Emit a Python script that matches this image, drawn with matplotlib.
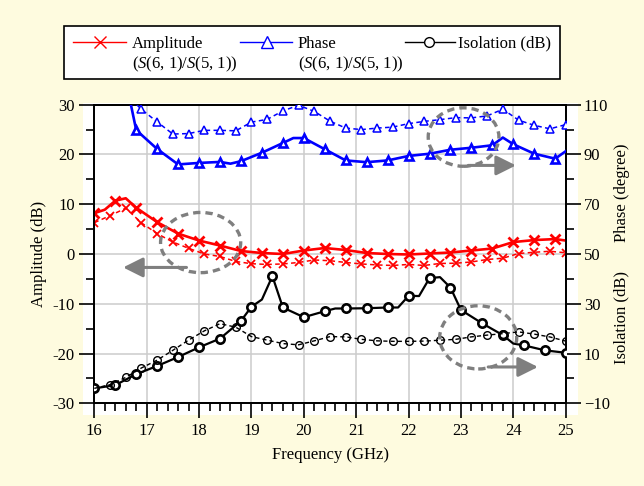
import matplotlib
matplotlib.use("Agg")
import matplotlib.pyplot as plt
from matplotlib.lines import Line2D
from matplotlib.patches import Ellipse, Rectangle
from matplotlib.ticker import MultipleLocator, FixedLocator, FuncFormatter

plt.rcParams['font.family'] = ['Liberation Serif', 'DejaVu Serif']
plt.rcParams['mathtext.fontset'] = 'custom'
plt.rcParams['mathtext.rm'] = 'Liberation Serif'
plt.rcParams['mathtext.it'] = 'Liberation Serif:italic'
plt.rcParams['font.size'] = 12

# ---------------- data ----------------
# Amplitude S(6,1)/S(5,1) (dB), left axis
amp_s_x = [16.0, 16.2, 16.4, 16.6, 16.8, 17.2, 17.6, 18.0, 18.4, 18.8, 19.2, 19.6, 20.0,
           20.4, 20.8, 21.2, 21.6, 22.0, 22.4, 22.8, 23.2, 23.6, 24.0, 24.4, 24.8, 25.0]
amp_s_y = [8.2, 8.9, 10.7, 11.2, 9.3, 6.4, 4.1, 2.7, 1.7, 0.6, 0.2, 0.0, 0.7,
           1.2, 0.8, 0.2, 0.0, -0.1, 0.1, 0.3, 0.7, 1.1, 2.4, 2.8, 3.0, 2.7]
amp_s_nomark = [16.2, 16.6, 25.0]

amp_d_x = [16.0, 16.3, 16.6, 16.9, 17.2, 17.5, 17.8, 18.1, 18.4, 18.7, 19.0, 19.3, 19.6,
           19.9, 20.2, 20.5, 20.8, 21.1, 21.4, 21.7, 22.0, 22.3, 22.6, 22.9, 23.2, 23.5,
           23.8, 24.1, 24.4, 24.7, 25.0]
amp_d_y = [6.3, 7.7, 9.2, 6.25, 4.1, 2.4, 1.15, 0.0, -0.5, -1.5, -1.95, -2.1, -2.0,
           -1.7, -1.2, -1.35, -1.7, -2.0, -2.2, -2.3, -2.1, -2.3, -1.9, -1.85, -1.6, -1.1,
           -0.85, 0.1, 0.35, 0.55, 0.25]

# Phase S(6,1)/S(5,1) (degree), right axis
ph_s_x = [16.6, 16.8, 17.2, 17.6, 18.0, 18.4, 18.6, 18.8, 19.2, 19.6, 19.8, 20.0, 20.4,
          20.8, 21.2, 21.6, 22.0, 22.4, 22.8, 23.2, 23.6, 23.8, 24.0, 24.4, 24.8, 25.0]
ph_s_y = [120.0, 99.8, 92.2, 86.0, 86.6, 87.0, 86.3, 87.3, 90.7, 94.6, 96.6, 96.6, 92.1,
          87.6, 86.9, 87.6, 89.4, 90.3, 91.9, 92.7, 93.7, 96.8, 94.1, 90.3, 88.3, 91.3]
ph_s_nomark = [16.6, 18.6, 19.8, 23.8, 25.0]

ph_d_x = [16.6, 16.9, 17.2, 17.5, 17.8, 18.1, 18.4, 18.7, 19.0, 19.3, 19.6, 19.9, 20.2,
          20.5, 20.8, 21.1, 21.4, 21.7, 22.0, 22.3, 22.6, 22.9, 23.2, 23.5, 23.8, 24.1,
          24.4, 24.7, 25.0]
ph_d_y = [114.5, 108.1, 103.1, 98.2, 98.4, 99.7, 99.7, 99.5, 103.0, 104.1, 107.5, 109.8, 107.3,
          103.4, 100.6, 100.0, 100.6, 101.0, 102.4, 103.3, 104.0, 104.8, 104.7, 105.5, 108.2, 103.8,
          101.7, 100.3, 102.0]

# Isolation (dB), right axis
iso_s_x = [16.0, 16.4, 16.8, 17.2, 17.6, 18.0, 18.4, 18.8, 19.0, 19.2, 19.4, 19.6, 20.0,
           20.4, 20.6, 20.8, 21.2, 21.6, 21.8, 22.0, 22.2, 22.4, 22.6, 22.8, 23.0, 23.4,
           23.8, 24.0, 24.2, 24.6, 25.0]
iso_s_y = [-4.0, -2.7, 1.7, 5.0, 8.6, 12.5, 16.0, 23.1, 28.8, 31.7, 41.1, 28.5, 24.6,
           27.0, 28.1, 28.1, 28.2, 28.5, 28.5, 33.2, 33.1, 40.3, 40.7, 36.5, 27.5, 22.2,
           17.4, 14.0, 13.3, 11.3, 10.3]
iso_s_nomark = [19.2, 20.6, 21.8, 22.2, 22.6, 24.0]

iso_d_x = [16.0, 16.3, 16.6, 16.9, 17.2, 17.5, 17.8, 18.1, 18.4, 18.7, 19.0, 19.3, 19.6,
           19.9, 20.2, 20.5, 20.8, 21.1, 21.4, 21.7, 22.0, 22.3, 22.6, 22.9, 23.2, 23.5,
           23.8, 24.1, 24.4, 24.7, 25.0]
iso_d_y = [-4.0, -2.5, 0.4, 4.2, 7.35, 11.3, 15.4, 19.1, 22.0, 20.6, 16.8, 15.4, 14.0,
           13.5, 15.1, 16.8, 16.7, 15.7, 15.1, 14.9, 14.9, 15.0, 15.35, 15.7, 16.7, 17.4,
           18.0, 18.7, 17.8, 16.65, 15.0]

x_ticks = [16, 17, 18, 19, 20, 21, 22, 23, 24, 25]
left_ticks = [-30, -20, -10, 0, 10, 20, 30]
right_ticks = [-10, 10, 30, 50, 70, 90, 110]
right_minor = [0, 20, 40, 60, 80, 100]

legend_first = ['Amplitude', 'Phase', 'Isolation (dB)']
legend_second = [r'($\mathit{S}$(6, 1)/$\mathit{S}$(5, 1))', r'($\mathit{S}$(6, 1)/$\mathit{S}$(5, 1))', '']

# ---------------- style ----------------
BG = '#FEFBDF'
RED = '#FF0000'
BLUE = '#0000FF'
BLK = '#000000'
GRAY = '#7F7F7F'
DASH = (0, (3, 2.2))

W, H = 644, 486
fig = plt.figure(figsize=(W / 100, H / 100), dpi=100, facecolor=BG)


def fx(px):
    return px / W


def fy(py):
    return 1 - py / H


def marks(xs, skip):
    return [i for i, v in enumerate(xs) if v not in skip]


ax = fig.add_axes([fx(94.3), fy(403.3), (565.7 - 94.3) / W, (403.3 - 104.7) / H])
ax.set_facecolor('white')
ax2 = ax.twinx()

# white backdrop behind axes + ticks
fig.patches.append(Rectangle((fx(83), fy(415)), fx(578) - fx(83), fy(103.5) - fy(415),
                             transform=fig.transFigure, facecolor='white',
                             edgecolor='none', zorder=-1))

ax.plot(amp_s_x, amp_s_y, color=RED, lw=1.9, marker='x', ms=6.5, mew=2.0,
        markevery=marks(amp_s_x, amp_s_nomark), zorder=4)
ax.plot(amp_d_x, amp_d_y, color=RED, lw=1.1, ls=DASH, marker='x', ms=5.5, mew=1.3, zorder=4)

ax2.plot(ph_s_x, ph_s_y, color=BLUE, lw=1.9, marker='^', ms=5.5, mew=1.9, mfc='white',
         markevery=marks(ph_s_x, ph_s_nomark), zorder=4)
ax2.plot(ph_d_x, ph_d_y, color=BLUE, lw=1.1, ls=DASH, marker='^', ms=6, mew=1.1, mfc='white', zorder=4)
ax2.plot(iso_s_x, iso_s_y, color=BLK, lw=1.6, marker='o', ms=6, mew=1.9, mfc='white',
         markevery=marks(iso_s_x, iso_s_nomark), zorder=4)
ax2.plot(iso_d_x, iso_d_y, color=BLK, lw=1.0, ls=DASH, marker='o', ms=5.5, mew=1.0, mfc='none', zorder=4)

# axes setup
ax.set_xlim(16, 25)
ax.set_ylim(-30, 30)
ax2.set_ylim(-10, 110)
ax.xaxis.set_major_locator(FixedLocator(x_ticks))
ax.xaxis.set_minor_locator(MultipleLocator(0.2))
ax.yaxis.set_major_locator(FixedLocator(left_ticks))
ax.yaxis.set_minor_locator(MultipleLocator(5))
ax.yaxis.set_major_formatter(FuncFormatter(lambda v, p: f"{v:.0f}"))
ax2.yaxis.set_major_locator(FixedLocator(right_ticks))
ax2.yaxis.set_minor_locator(FixedLocator(right_minor))
ax2.yaxis.set_major_formatter(FuncFormatter(lambda v, p: f"{v:.0f}".replace('-', '\u2212')))

for a in (ax, ax2):
    for s in a.spines.values():
        s.set_linewidth(1.3)
ax.tick_params(which='both', direction='out', width=1.2, top=False, right=False, labelsize=12)
ax.tick_params(which='major', length=11, pad=3)
ax.tick_params(which='minor', length=6)
ax2.tick_params(which='both', direction='out', width=1.2, labelsize=12)
ax2.tick_params(which='major', length=11, pad=2)
ax2.tick_params(which='minor', length=6)
ax.grid(which='major', color='#CCCCCC', lw=1.1)
ax.set_axisbelow(True)

ax.set_xlabel('Frequency (GHz)', fontsize=12, labelpad=6)
ax.set_ylabel('Amplitude (dB)', fontsize=12, labelpad=4)
ax2.text(1.119, 0.704, 'Phase (degree)', rotation=90, transform=ax2.transAxes,
         ha='center', va='center', fontsize=12)
ax2.text(1.119, 0.286, 'Isolation (dB)', rotation=90, transform=ax2.transAxes,
         ha='center', va='center', fontsize=12)

# annotation ellipses & arrows
ell_kw = dict(fill=False, edgecolor=GRAY, lw=2.4, ls=(0, (2.2, 1.5)), zorder=6)
ax.add_patch(Ellipse((18.03, 2.3), 1.53, 12.1, **ell_kw))
ax2.add_patch(Ellipse((23.05, 97.0), 1.35, 23.5, **ell_kw))
ax2.add_patch(Ellipse((23.33, 16.5), 1.47, 25.4, **ell_kw))
arr_kw = dict(arrowstyle='-|>,head_length=0.6,head_width=0.3', color=GRAY, lw=2.2,
              mutation_scale=20, shrinkA=0, shrinkB=0)
ax.annotate('', xy=(16.55, -2.7), xytext=(17.76, -2.7), arrowprops=arr_kw, zorder=6)
ax2.annotate('', xy=(24.05, 85.6), xytext=(23.14, 85.6), arrowprops=arr_kw, zorder=6)
ax2.annotate('', xy=(24.47, 4.6), xytext=(23.52, 4.6), arrowprops=arr_kw, zorder=6)

# legend (drawn manually to match layout)
fig.patches.append(Rectangle((fx(64), fy(79)), fx(560) - fx(64), fy(26) - fy(79),
                             transform=fig.transFigure, facecolor='white',
                             edgecolor='black', lw=1.2, zorder=5))
leg_items = [
    (73.3, 126.0, 100.0, 131.7, RED, 'x', 'none', 8, 1.0),
    (240.3, 292.3, 266.7, 297.7, BLUE, '^', 'white', 9, 1.0),
    (405.0, 455.0, 429.0, 458.3, BLK, 'o', 'white', 7, 1.0),
]
for (x0, x1, xm, xt, c, m, mfc, ms, mew), t1, t2 in zip(leg_items, legend_first, legend_second):
    fig.add_artist(Line2D([fx(x0), fx(x1)], [fy(41.7), fy(41.7)], transform=fig.transFigure,
                          color=c, lw=1.0, zorder=6))
    fig.add_artist(Line2D([fx(xm)], [fy(41.7)], transform=fig.transFigure, color=c, lw=0,
                          marker=m, ms=ms, mfc=mfc, mec=c, mew=mew, zorder=7))
    fig.text(fx(xt), fy(47.7), t1, va='baseline', ha='left', fontsize=12, zorder=7)
    if t2:
        fig.text(fx(xt), fy(68.3), t2, va='baseline', ha='left', fontsize=12, zorder=7)

fig.savefig('out.png', dpi=100, facecolor=BG)
